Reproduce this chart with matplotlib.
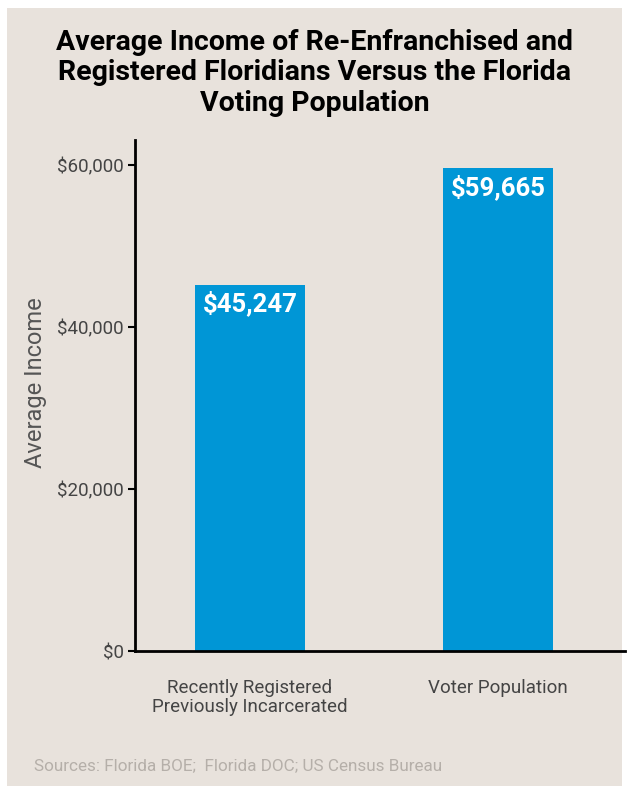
import matplotlib.pyplot as plt
from matplotlib.patches import Rectangle
from matplotlib.ticker import FuncFormatter

categories = ["Recently Registered\nPreviously Incarcerated", "Voter Population"]
income = [45247, 59665]
yticks = [0, 20000, 40000, 60000]

bg = "#e8e2dc"
bar_color = "#0096d6"

plt.rcParams['font.family'] = ['Roboto', 'DejaVu Sans']

fig = plt.figure(figsize=(6.29, 7.93), dpi=100)
fig.patch.set_facecolor("white")
fig.patches.append(Rectangle((7 / 629, 1 - 786 / 793), 615 / 629, 778 / 793,
                             transform=fig.transFigure, facecolor=bg,
                             edgecolor="none", zorder=-10))

ax = fig.add_axes([135 / 629, 1 - 651 / 793, 490 / 629, 511 / 793])
ax.set_facecolor(bg)
ax.patch.set_alpha(0)

x = range(len(categories))
bars = ax.bar(x, income, width=0.444, color=bar_color)
for b, v in zip(bars, income):
    ax.text(b.get_x() + b.get_width() / 2, v - 2350, "${:,}".format(v),
            ha="center", va="center", color="white", fontsize=18.5,
            fontweight="bold")

ax.set_xlim(-0.464, 1.512)
ax.set_ylim(0, 63100)
ax.set_xticks(list(x))
ax.set_xticklabels(categories, fontsize=13.5, color="#444444", linespacing=1.1)
ax.tick_params(axis="x", length=0, pad=20)
ax.set_yticks(yticks)
ax.yaxis.set_major_formatter(FuncFormatter(lambda v, p: "${:,.0f}".format(v)))
ax.tick_params(axis="y", labelsize=13.5, labelcolor="#444444", length=5,
               width=1.5, direction="out", pad=3)

for s in ["top", "right"]:
    ax.spines[s].set_visible(False)
for s in ["left", "bottom"]:
    ax.spines[s].set_linewidth(2)
    ax.spines[s].set_color("black")

ax.set_ylabel("Average Income", fontsize=17, color="#555555", labelpad=7, y=0.526)

fig.text(0.5, 1 - 73 / 793,
         "Average Income of Re-Enfranchised and\nRegistered Floridians Versus the Florida\nVoting Population",
         ha="center", va="center", fontsize=20.5, fontweight="bold",
         color="black", linespacing=1.15)

fig.text(34 / 629, 1 - 766 / 793, "Sources: Florida BOE;  Florida DOC; US Census Bureau",
         ha="left", va="center", fontsize=12.3, color="#b5afa9")

fig.savefig("out.png", dpi=100)
